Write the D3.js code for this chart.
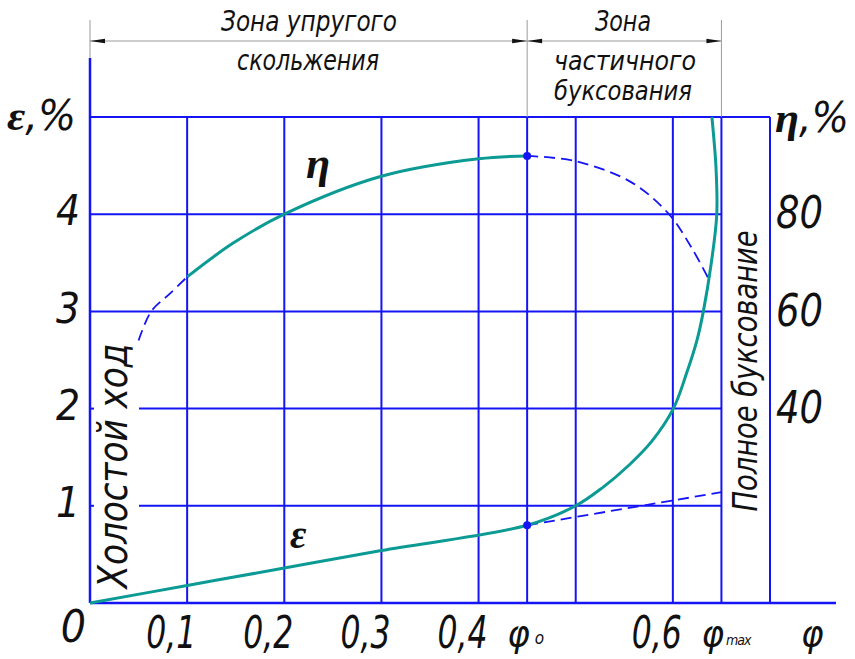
<!DOCTYPE html>
<html>
<head>
<meta charset="utf-8">
<script src="https://cdn.jsdelivr.net/npm/d3@7"></script>
<style>
  body { margin: 0; background: #fff; }
  text { font-family: "Liberation Sans Narrow", "DejaVu Sans Condensed", sans-serif; font-style: italic; fill: #111; }
  .greek { font-family: "Liberation Serif", "DejaVu Serif", serif; font-weight: bold; font-style: italic; }
</style>
</head>
<body>
<div id="chart"></div>
<script>
// grid positions on the φ axis
var phiGrid = [0.1, 0.2, 0.3, 0.4, 0.45, 0.5, 0.6, 0.65, 0.7];
var phiTicks = [0.1, 0.2, 0.3, 0.4, 0.6];
var phiTickLabels = ["0,1", "0,2", "0,3", "0,4", "0,6"];
var phi0 = 0.45, phiMax = 0.65;

// left axis ε, %  and right axis η, %
var epsTicks = [1, 2, 3, 4];
var etaTicks = [40, 60, 80];

// ε curve (solid) and its tangent continuation (dashed)
var epsCurve = [[0, 0], [0.1, 0.18], [0.2, 0.36], [0.3, 0.54], [0.45, 0.8], [0.5, 1.0], [0.528, 1.19],
                [0.555, 1.42], [0.578, 1.66], [0.6005, 2.0], [0.614, 2.36], [0.625, 2.71], [0.6314, 3.0],
                [0.6396, 3.5], [0.6452, 4.0], [0.6443, 4.5], [0.6402, 5.0]];
var epsDashed = [[0.45, 0.8], [0.65, 1.14]];

// η curve: solid part and dashed ends
var etaCurve = [[0.1, 67.1], [0.147, 74], [0.2, 80], [0.3, 87.8], [0.4, 91.4], [0.45, 92]];
var etaDashLeft = [[0.05, 54], [0.063, 60], [0.0825, 63.7], [0.1, 67.1]];
var etaDashRight = [[0.45, 92], [0.5, 90.9], [0.557, 86.6], [0.596, 80], [0.619, 73.2], [0.636, 67]];

var width = 855, height = 659;
var blue = "#1414f5", teal = "#0b9a94", gray = "#9a9a9a";

var x = d3.scaleLinear().domain([0, 0.7]).range([90, 770]);
var y = d3.scaleLinear().domain([0, 5]).range([603, 117]);
var yEta = d3.scaleLinear().domain([0, 100]).range([603, 117]);

var svg = d3.select("#chart").append("svg")
    .attr("width", width)
    .attr("height", height);

//vertical grid lines
svg.selectAll(".vgrid")
    .data(phiGrid)
    .enter().append("line")
    .attr("x1", function(d) { return x(d); })
    .attr("x2", function(d) { return x(d); })
    .attr("y1", y(5))
    .attr("y2", y(0))
    .attr("stroke", blue)
    .attr("stroke-width", 2);

//horizontal grid lines (1 and 2 start after the "Холостой ход" label)
svg.selectAll(".hgrid")
    .data(epsTicks)
    .enter().append("line")
    .attr("x1", function(d) { return d <= 2 ? 139 : x(0); })
    .attr("x2", x(phiMax))
    .attr("y1", function(d) { return y(d); })
    .attr("y2", function(d) { return y(d); })
    .attr("stroke", blue)
    .attr("stroke-width", 2);

svg.selectAll(".stub")
    .data(epsTicks.filter(function(d) { return d <= 2; }))
    .enter().append("line")
    .attr("x1", x(0))
    .attr("x2", x(0) + 4)
    .attr("y1", function(d) { return y(d); })
    .attr("y2", function(d) { return y(d); })
    .attr("stroke", blue)
    .attr("stroke-width", 2);

//top line
svg.append("line")
    .attr("x1", x(0)).attr("x2", x(0.7))
    .attr("y1", y(5)).attr("y2", y(5))
    .attr("stroke", blue).attr("stroke-width", 2);

//axes
svg.append("line")
    .attr("x1", x(0)).attr("x2", 836)
    .attr("y1", y(0)).attr("y2", y(0))
    .attr("stroke", blue).attr("stroke-width", 2.5);
svg.append("line")
    .attr("x1", x(0)).attr("x2", x(0))
    .attr("y1", 58).attr("y2", y(0))
    .attr("stroke", blue).attr("stroke-width", 2.5);

//dimension lines for the zones
[x(0), x(phi0), x(phiMax)].forEach(function(px, i) {
    svg.append("line")
        .attr("x1", px).attr("x2", px)
        .attr("y1", 20).attr("y2", i === 0 ? 58 : y(5))
        .attr("stroke", gray).attr("stroke-width", 1);
});
svg.append("line")
    .attr("x1", x(0)).attr("x2", x(phiMax))
    .attr("y1", 41).attr("y2", 41)
    .attr("stroke", gray).attr("stroke-width", 1);

function arrow(tip, dir) {
    // dir = -1 points left, 1 points right
    var b = tip - dir * 15;
    svg.append("path")
        .attr("d", "M" + tip + ",41L" + b + ",38.8L" + b + ",43.2Z")
        .attr("fill", "#111");
}
arrow(x(0), -1);
arrow(x(phi0), 1);
arrow(x(phi0), -1);
arrow(x(phiMax), 1);

//curves
var line = d3.line()
    .x(function(d) { return x(d[0]); })
    .y(function(d) { return y(d[1]); })
    .curve(d3.curveCatmullRom.alpha(0.5));

var lineEta = d3.line()
    .x(function(d) { return x(d[0]); })
    .y(function(d) { return yEta(d[1]); })
    .curve(d3.curveCatmullRom.alpha(0.5));

svg.append("path").attr("d", lineEta(etaDashLeft))
    .attr("fill", "none").attr("stroke", blue).attr("stroke-width", 1.8).attr("stroke-dasharray", "11,6");
svg.append("path").attr("d", lineEta(etaDashRight))
    .attr("fill", "none").attr("stroke", blue).attr("stroke-width", 1.8).attr("stroke-dasharray", "11,6");
svg.append("path").attr("d", line(epsDashed))
    .attr("fill", "none").attr("stroke", blue).attr("stroke-width", 1.8).attr("stroke-dasharray", "11,6");

svg.append("path").attr("d", lineEta(etaCurve))
    .attr("fill", "none").attr("stroke", teal).attr("stroke-width", 3);
svg.append("path").attr("d", line(epsCurve))
    .attr("fill", "none").attr("stroke", teal).attr("stroke-width", 3);

//points at φ0
svg.append("circle").attr("cx", x(phi0)).attr("cy", yEta(etaCurve[etaCurve.length - 1][1])).attr("r", 4).attr("fill", blue);
svg.append("circle").attr("cx", x(phi0)).attr("cy", y(epsCurve[4][1])).attr("r", 4).attr("fill", blue);

//tick labels on φ axis
svg.selectAll(".xlab")
    .data(phiTicks)
    .enter().append("text")
    .attr("x", function(d) { return x(d) + 9; })
    .attr("y", 648)
    .attr("text-anchor", "end")
    .attr("font-size", 44)
    .attr("textLength", 50)
    .attr("lengthAdjust", "spacingAndGlyphs")
    .text(function(d, i) { return phiTickLabels[i]; });

svg.append("text").attr("x", 86).attr("y", 642).attr("text-anchor", "end")
    .attr("font-size", 44).text("0");

var p0 = svg.append("text").attr("x", x(phi0) - 20).attr("y", 646).attr("font-size", 38);
p0.append("tspan").text("φ");
p0.append("tspan").attr("font-size", 17).attr("dx", 5).attr("dy", -2).text("o");

var pm = svg.append("text").attr("x", x(phiMax) - 20).attr("y", 646).attr("font-size", 38);
pm.append("tspan").text("φ");
pm.append("tspan").attr("font-size", 14).attr("dx", 2).attr("dy", -1).attr("letter-spacing", -1).text("max");

svg.append("text").attr("x", 801).attr("y", 646).attr("font-size", 38).text("φ");

//left tick labels
svg.selectAll(".ylab")
    .data(epsTicks)
    .enter().append("text")
    .attr("x", 80)
    .attr("y", function(d) { return y(d) - 4; })
    .attr("dy", "0.36em")
    .attr("text-anchor", "end")
    .attr("font-size", 42)
    .text(function(d) { return d; });

//right tick labels
svg.selectAll(".etalab")
    .data(etaTicks)
    .enter().append("text")
    .attr("x", 776)
    .attr("y", function(d) { return yEta(d) - 2; })
    .attr("dy", "0.36em")
    .attr("font-size", 45)
    .attr("textLength", 47)
    .attr("lengthAdjust", "spacingAndGlyphs")
    .text(function(d) { return d; });

//axis titles
var et = svg.append("text").attr("x", 7).attr("y", 130).attr("font-size", 42)
    .attr("textLength", 69).attr("lengthAdjust", "spacingAndGlyphs");
et.append("tspan").attr("class", "greek").attr("font-weight", "normal").text("ε");
et.append("tspan").text(",%");

var ht = svg.append("text").attr("x", 775).attr("y", 132).attr("font-size", 42)
    .attr("textLength", 74).attr("lengthAdjust", "spacingAndGlyphs");
ht.append("tspan").attr("class", "greek").text("η");
ht.append("tspan").text(",%");

//curve names
svg.append("text").attr("class", "greek").attr("x", 306).attr("y", 178).attr("font-size", 44).text("η");
svg.append("text").attr("class", "greek").attr("x", 290).attr("y", 548).attr("font-size", 40).text("ε");

//zone captions
function caption(txt, cx, cy, len, size) {
    svg.append("text")
        .attr("x", cx).attr("y", cy)
        .attr("text-anchor", "middle")
        .attr("font-size", size)
        .attr("textLength", len)
        .attr("lengthAdjust", "spacingAndGlyphs")
        .text(txt);
}
caption("Зона упругого", 309, 31, 176, 28);
caption("скольжения", 308, 70, 142, 28);
caption("Зона", 623, 31, 56, 28);
caption("частичного", 625, 70, 142, 27);
caption("буксования", 623, 100, 138, 27);

//rotated labels
svg.append("text")
    .attr("transform", "translate(127,466) rotate(-90)")
    .attr("text-anchor", "middle")
    .attr("font-size", 41)
    .attr("textLength", 245)
    .attr("lengthAdjust", "spacingAndGlyphs")
    .text("Холостой ход");

svg.append("text")
    .attr("transform", "translate(757,371) rotate(-90)")
    .attr("text-anchor", "middle")
    .attr("font-size", 33)
    .attr("textLength", 281)
    .attr("lengthAdjust", "spacingAndGlyphs")
    .text("Полное буксование");
</script>
</body>
</html>
